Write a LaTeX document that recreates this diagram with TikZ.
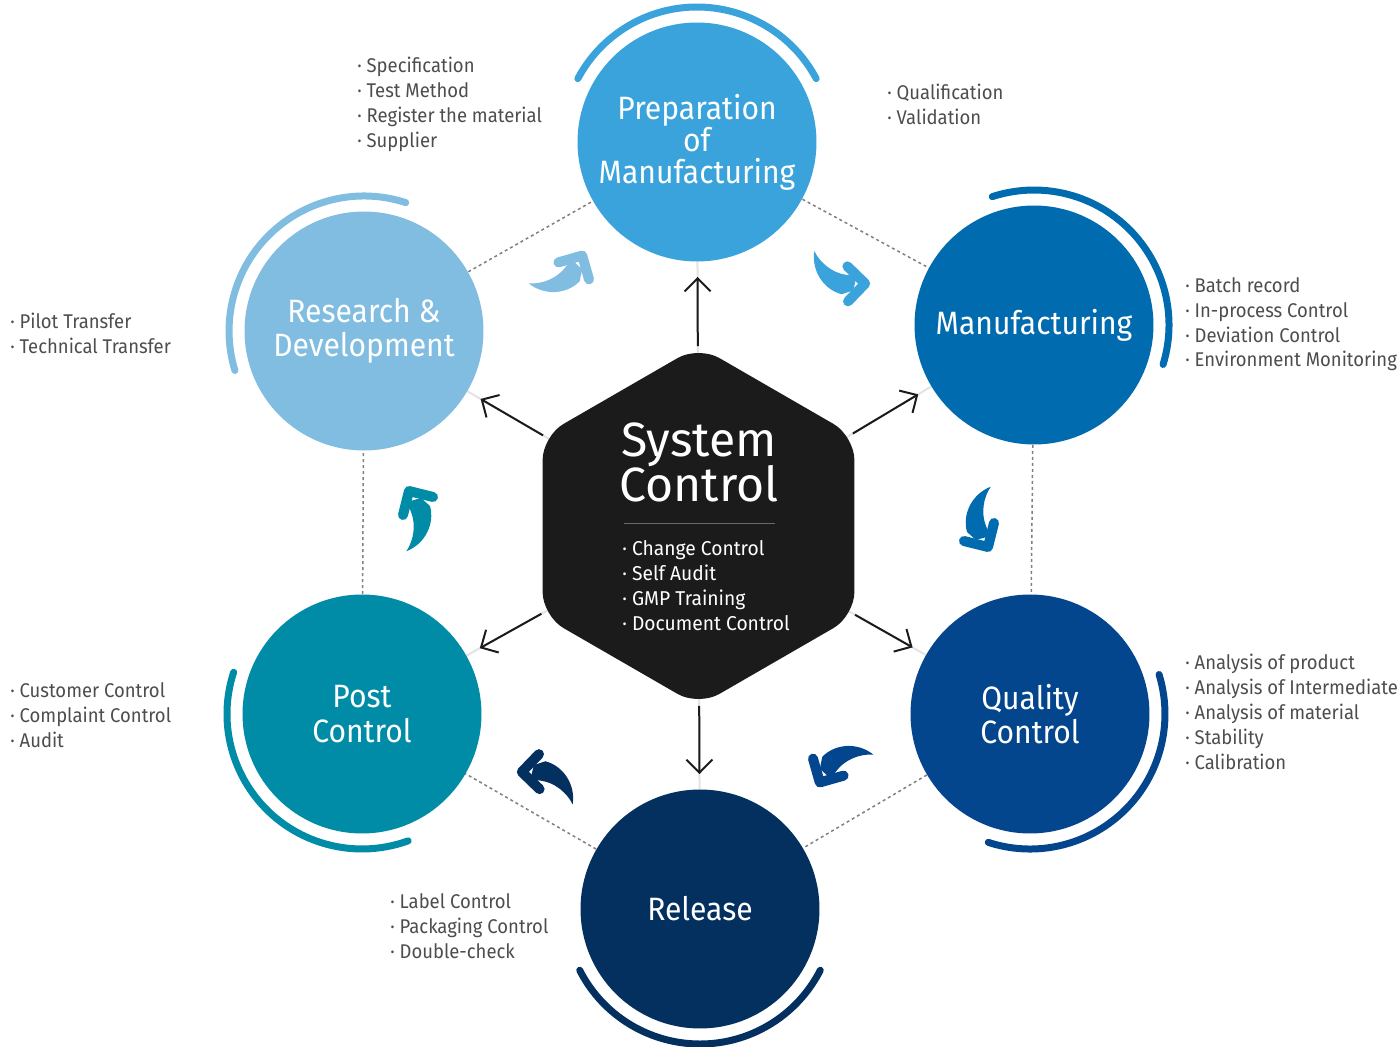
\documentclass[tikz,border=0pt]{standalone}
\usepackage{fontspec}
\setmainfont{Fira Sans}[FakeStretch=0.87]
\newfontfamily\listfont{Fira Sans}[FakeStretch=0.93]
\newfontfamily\hexfont{Fira Sans}[FakeStretch=0.96]
\newfontfamily\titlefont{Fira Sans}[FakeStretch=0.93]
\newfontfamily\bigfont{Fira Sans}[FakeStretch=1.0]
\usetikzlibrary{arrows.meta,backgrounds}
\definecolor{cprep}{HTML}{3AA3DC}
\definecolor{cmfg}{HTML}{016BAF}
\definecolor{cqc}{HTML}{03468D}
\definecolor{crel}{HTML}{03305E}
\definecolor{cpost}{HTML}{008CA6}
\definecolor{crd}{HTML}{80BDE0}
\definecolor{chex}{HTML}{1B1B1B}
\definecolor{ctext}{HTML}{4D4D4D}
\definecolor{cdash}{HTML}{808080}
\definecolor{cfaint}{HTML}{E3E3E3}
\definecolor{csep}{HTML}{6A6A6A}
\begin{document}
\lineskiplimit=-100pt
\begin{tikzpicture}[x=0.02cm,y=-0.02cm,
  stage/.style={circle, fill=#1, minimum size=4.78cm, inner sep=0pt, text=white, align=center,
     font=\titlefont\fontsize{18.4pt}{19.6pt}\selectfont},
  ringarc/.style={draw=#1, line width=0.14cm, line cap=round},
  dashlink/.style={draw=cdash, line width=0.03cm, dash pattern=on 0.06cm off 0.06cm},
  faintlink/.style={draw=cfaint, line width=0.04cm},
  sysarrow/.style={draw=chex, line width=0.04cm, -{Straight Barb[length=0.26cm,width=0.52cm]},
     shorten <=3.6cm, shorten >=2.7cm},
  sidelist/.style={anchor=north west, inner sep=0pt, align=left, text=ctext,
     font=\listfont\fontsize{11.3pt}{14.17pt}\selectfont},
  hexlist/.style={anchor=north west, inner sep=0pt, align=left, text=white,
     font=\hexfont\fontsize{11.4pt}{14.17pt}\selectfont},
  bigtitle/.style={anchor=south, inner sep=0pt, text=white, align=center,
     font=\bigfont\fontsize{27.4pt}{25.6pt}\selectfont},
  cyclearrow/.pic={
    \fill (10.7,-39.3) .. controls (-8,-32) and (-18,-12) .. (-13,6) -- (-4,14) -- (10,10) -- (6,0)
       .. controls (1,-12) and (3,-28) .. (10.7,-39.3) -- cycle;
    \draw[line width=0.2cm, line cap=round, line join=round] (-16,15) -- (8,21) -- (14,-3);
  }
]
\useasboundingbox (0,0) rectangle (1400,1047);

% centre hexagon
\coordinate (hx) at (698.5,526);
\fill[chex, rounded corners=0.48cm] (698.5,346) -- (854.4,436) -- (854.4,616) -- (698.5,706)
   -- (542.6,616) -- (542.6,436) -- cycle;
\node[bigtitle] (systitle) at (699,502) {System\\Control};
\draw[csep, line width=0.02cm] (624,523) -- (775,523);
\node[hexlist] (syslist) at (622,540) {· Change Control\\· Self Audit\\· GMP Training\\· Document Control};

% stages
\node[stage=cprep, font=\titlefont\fontsize{18.4pt}{18.2pt}\selectfont] (prep) at (697,142) {Preparation\\of\\Manufacturing};
\node[stage=cmfg] (mfg) at (1034,325) {Manufacturing};
\node[stage=cqc] (qc) at (1030,714) {Quality\\Control};
\node[stage=crel] (rel) at (700,909) {Release};
\node[stage=cpost] (post) at (362,714) {Post\\Control};
\node[stage=crd] (rd) at (364,331) {Research \&\\Development};

% outer arcs
\draw[ringarc=cprep] (prep.center) ++(28:2.7cm) arc[start angle=28, end angle=152, radius=2.7cm];
\draw[ringarc=cmfg] (mfg.center) ++(-17:2.7cm) arc[start angle=-17, end angle=108, radius=2.7cm];
\draw[ringarc=cqc] (qc.center) ++(-108:2.7cm) arc[start angle=-108, end angle=17, radius=2.7cm];
\draw[ringarc=crel] (rel.center) ++(207:2.7cm) arc[start angle=207, end angle=333, radius=2.7cm];
\draw[ringarc=cpost] (post.center) ++(162:2.7cm) arc[start angle=162, end angle=290, radius=2.7cm];
\draw[ringarc=crd] (rd.center) ++(72:2.7cm) arc[start angle=72, end angle=197, radius=2.7cm];

% background links
\begin{scope}[on background layer]
  \draw[faintlink] (hx) -- (prep.center);
  \draw[faintlink] (hx) -- (mfg.center);
  \draw[faintlink] (hx) -- (qc.center);
  \draw[faintlink] (hx) -- (rel.center);
  \draw[faintlink] (hx) -- (post.center);
  \draw[faintlink] (hx) -- (rd.center);
  \draw[dashlink] (rd.center) -- (prep.center);
  \draw[dashlink] (prep.center) -- (mfg.center);
  \draw[dashlink] (mfg.center) -- (qc.center);
  \draw[dashlink] (qc.center) -- (rel.center);
  \draw[dashlink] (rel.center) -- (post.center);
  \draw[dashlink] (post.center) -- (rd.center);
\end{scope}

% system arrows
\draw[sysarrow] (hx) -- (prep.center);
\draw[sysarrow] (hx) -- (mfg.center);
\draw[sysarrow] (hx) -- (qc.center);
\draw[sysarrow] (hx) -- (rel.center);
\draw[sysarrow] (hx) -- (post.center);
\draw[sysarrow] (hx) -- (rd.center);

% cycle arrows
\pic[cmfg] (ca1) at (980,526) {cyclearrow};
\pic[cprep, rotate=60] (ca2) at (843,280) {cyclearrow};
\pic[crd, rotate=120] (ca3) at (568,273) {cyclearrow};
\pic[cpost, rotate=180] (ca4) at (417,512) {cyclearrow};
\pic[crel, rotate=240] (ca5) at (544,775.5) {cyclearrow};
\pic[cqc, rotate=300] (ca6) at (834,765) {cyclearrow};

% side lists
\node[sidelist] (specs) at (357,57) {· Specification\\· Test Method\\· Register the material\\· Supplier};
\node[sidelist] (quals) at (887,84) {· Qualification\\· Validation};
\node[sidelist] (batch) at (1185,277) {· Batch record\\· In-process Control\\· Deviation Control\\· Environment Monitoring};
\node[sidelist] (analysis) at (1185,654) {· Analysis of product\\· Analysis of Intermediate\\· Analysis of material\\· Stability\\· Calibration};
\node[sidelist] (labels) at (390,893) {· Label Control\\· Packaging Control\\· Double-check};
\node[sidelist] (customer) at (10,682) {· Customer Control\\· Complaint Control\\· Audit};
\node[sidelist] (pilot) at (10,313) {· Pilot Transfer\\· Technical Transfer};
\end{tikzpicture}
\end{document}
